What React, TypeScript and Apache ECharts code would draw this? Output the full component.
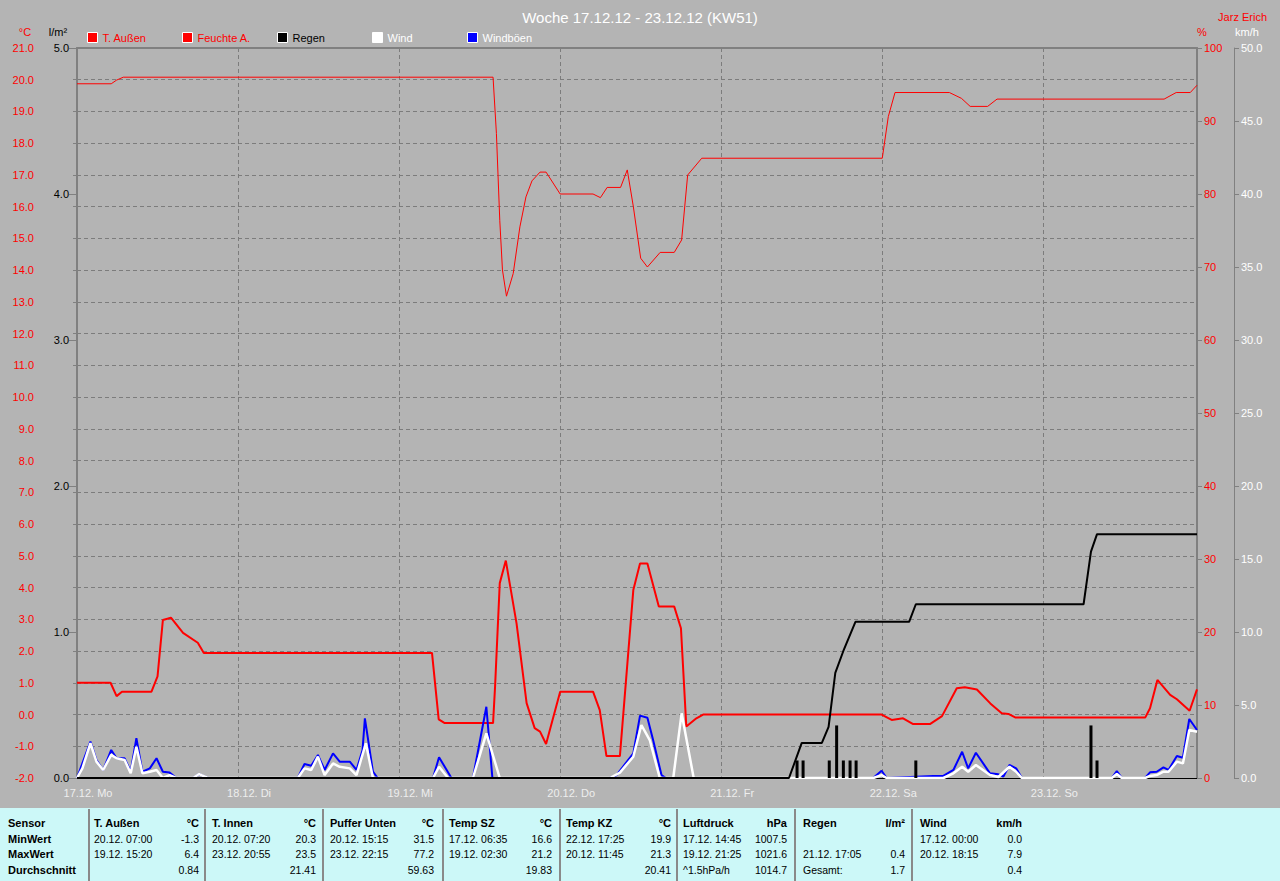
import React, { useEffect, useRef } from 'react';
import * as echarts from 'echarts';

// ---------- data (hours since 17.12. 00:00, value) ----------
const dayLabels = ['17.12. Mo', '18.12. Di', '19.12. Mi', '20.12. Do', '21.12. Fr', '22.12. Sa', '23.12. So'];
const legendNames = ['T. Außen', 'Feuchte A.', 'Regen', 'Wind', 'Windböen'];
const axisUnits = ['°C', 'l/m²', '%', 'km/h'];

const tempOutside: [number, number][] = [
  [0, 1.0], [5.0, 1.0], [5.9, 0.58], [6.7, 0.72], [11.1, 0.72], [12.0, 1.2], [12.8, 2.98], [14.0, 3.05],
  [15.8, 2.57], [18.0, 2.26], [18.9, 1.94], [52.9, 1.94], [53.9, -0.15], [54.8, -0.27], [62.0, -0.27],
  [62.3, 0.88], [63.0, 4.14], [63.9, 4.85], [65.5, 2.87], [67.0, 0.36], [68.2, -0.43], [69.0, -0.54],
  [69.9, -0.93], [72.0, 0.72], [76.9, 0.72], [77.9, 0.14], [78.9, -1.31], [80.9, -1.31], [82.9, 3.92],
  [83.9, 4.76], [85.0, 4.76], [86.7, 3.4], [89.0, 3.4], [90.0, 2.72], [90.8, -0.38], [92.3, -0.12],
  [93.3, 0.0], [119.9, 0.0], [121.4, -0.17], [123.1, -0.12], [124.6, -0.3], [127.1, -0.3], [128.9, -0.05],
  [131.1, 0.83], [132.3, 0.86], [134.1, 0.79], [136.1, 0.35], [137.8, 0.04], [138.8, 0.02], [139.8, -0.09],
  [159.2, -0.09], [159.9, 0.2], [161.0, 1.09], [162.9, 0.62], [163.9, 0.48], [165.8, 0.12], [166.9, 0.79],
];

const humidity: [number, number][] = [
  [0, 95.1], [5.1, 95.1], [5.9, 95.6], [6.9, 96.0], [62.0, 96.0], [62.5, 88.3], [63.0, 76.4], [63.4, 69.6],
  [64.0, 66.0], [65.0, 69.1], [66.0, 75.5], [66.9, 79.6], [67.8, 81.8], [69.0, 83.0], [69.9, 83.0],
  [72.0, 80.0], [76.9, 80.0], [78.0, 79.5], [79.0, 80.9], [81.0, 80.9], [82.0, 83.3], [82.9, 78.3],
  [84.0, 71.2], [85.0, 70.0], [86.9, 72.0], [89.0, 72.0], [90.1, 73.7], [91.0, 82.6], [93.1, 84.9],
  [120.0, 84.9], [120.9, 90.6], [121.9, 93.9], [130.0, 93.9], [131.8, 93.1], [133.1, 92.0], [135.7, 92.0],
  [137.1, 93.0], [162.0, 93.0], [163.8, 93.9], [165.9, 93.9], [166.9, 94.9],
];

const rainTotal: [number, number][] = [
  [0, 0], [106.1, 0], [108.0, 0.24], [111.0, 0.24], [112.0, 0.35], [113.0, 0.72], [114.2, 0.87],
  [116.0, 1.07], [124.0, 1.07], [125.0, 1.19], [150.0, 1.19], [151.1, 1.55], [152.0, 1.67], [166.9, 1.67],
];

const rainAmounts: [number, number][] = [
  [107.3, 0.12], [108.2, 0.12], [112.1, 0.12], [113.2, 0.36], [114.2, 0.12], [115.2, 0.12],
  [116.1, 0.12], [125.0, 0.12], [151.1, 0.36], [152.0, 0.12],
];

const wind: [number, number][] = [
  [0, 0], [0.8, 0.66], [2.0, 2.38], [2.9, 1.12], [3.9, 0.55], [5.1, 1.58], [5.9, 1.35], [7.1, 1.23],
  [8.0, 0.32], [8.85, 2.14], [9.75, 0.32], [10.85, 0.43], [11.85, 0.55], [12.8, 0], [13.8, 0.2], [14.8, 0],
  [17.3, 0], [18.2, 0.27], [19.5, 0], [32.9, 0], [33.9, 0.66], [34.9, 0.55], [35.9, 1.46], [36.9, 0.2],
  [38.15, 1.0], [39.15, 0.77], [40.65, 0.66], [41.65, 0.2], [43.05, 2.38], [44.1, 0], [53.05, 0],
  [53.95, 0.77], [55.3, 0], [59.0, 0], [61.0, 3.06], [63.0, 0], [79.4, 0], [80.9, 0.37], [82.9, 1.46],
  [84.1, 3.63], [85.35, 2.6], [86.85, 0], [88.85, 0], [90.1, 4.43], [91.9, 0], [118.65, 0], [119.9, 0.2],
  [120.65, 0], [129.1, 0], [130.6, 0.32], [131.9, 0.77], [132.8, 0.43], [133.95, 0.89], [136.05, 0.2],
  [137.3, 0.07], [138.95, 0.77], [139.95, 0.43], [140.8, 0], [154.2, 0], [154.95, 0.27], [155.7, 0],
  [159.15, 0], [159.9, 0.14], [160.9, 0.2], [161.9, 0.43], [162.65, 0.43], [163.9, 1.12], [164.8, 1.0],
  [165.75, 3.29], [166.9, 3.17],
];

const gusts: [number, number][] = [
  [0, 0], [0.8, 1.0], [2.0, 2.49], [2.9, 1.23], [3.9, 0.55], [5.1, 1.92], [5.9, 1.35], [7.1, 1.35],
  [8.0, 0.43], [8.85, 2.72], [9.75, 0.43], [10.85, 0.66], [11.85, 1.35], [12.8, 0.43], [13.8, 0.37],
  [14.8, 0], [17.3, 0], [18.2, 0.27], [19.5, 0], [32.9, 0], [33.9, 0.96], [34.9, 0.84], [35.9, 1.58],
  [36.9, 0.55], [38.15, 1.69], [39.15, 1.12], [40.65, 1.12], [41.65, 0.55], [42.55, 1.92], [42.9, 4.09],
  [44.1, 0.43], [44.8, 0], [53.05, 0], [53.95, 1.42], [55.8, 0], [59.0, 0], [61.0, 4.88], [61.9, 0],
  [79.4, 0], [80.4, 0.2], [82.9, 1.69], [83.9, 4.27], [85.0, 4.13], [85.85, 2.6], [87.1, 0.2], [87.75, 0],
  [118.65, 0], [119.9, 0.5], [120.65, 0], [127.6, 0.14], [129.1, 0.14], [130.6, 0.55], [131.9, 1.8],
  [132.8, 0.66], [133.95, 1.73], [136.05, 0.32], [137.3, 0.25], [138.05, 0.1], [138.95, 0.89],
  [139.95, 0.66], [140.8, 0], [154.2, 0], [154.95, 0.48], [155.7, 0], [159.15, 0], [159.9, 0.39],
  [160.9, 0.43], [161.9, 0.73], [162.65, 0.55], [163.9, 1.51], [164.8, 1.39], [165.75, 4.04], [166.9, 3.29],
];

// ---------- table ----------
const tableRowLabels = ['Sensor', 'MinWert', 'MaxWert', 'Durchschnitt'];
const tableSensors = ['T. Außen', 'T. Innen', 'Puffer Unten', 'Temp SZ', 'Temp KZ', 'Luftdruck', 'Regen', 'Wind'];
const tableUnits = ['°C', '°C', '°C', '°C', '°C', 'hPa', 'l/m²', 'km/h'];
const tableMinTimes = ['20.12. 07:00', '20.12. 07:20', '20.12. 15:15', '17.12. 06:35', '22.12. 17:25', '17.12. 14:45', '', '17.12. 00:00'];
const tableMinValues = ['-1.3', '20.3', '31.5', '16.6', '19.9', '1007.5', '', '0.0'];
const tableMaxTimes = ['19.12. 15:20', '23.12. 20:55', '23.12. 22:15', '19.12. 02:30', '20.12. 11:45', '19.12. 21:25', '21.12. 17:05', '20.12. 18:15'];
const tableMaxValues = ['6.4', '23.5', '77.2', '21.2', '21.3', '1021.6', '0.4', '7.9'];
const tableAvgLabels = ['', '', '', '', '', '^1.5hPa/h', 'Gesamt:', ''];
const tableAvgValues = ['0.84', '21.41', '59.63', '19.83', '20.41', '1014.7', '1.7', '0.4'];

// ---------- layout ----------
const FONT = '"Liberation Sans", Arial, sans-serif';
const X_MAX = 166.9;
const colLeft = [94, 212, 330, 449, 566, 683, 803, 920];
const colRight = [199, 316, 434, 552, 671, 787, 905, 1022];
const colSep = [89, 205, 323, 443, 560, 677, 795, 912];
const rowY = [823, 838.5, 854, 870];
const legendLeft = [87, 182, 277, 372, 467];
const legendTextColor = ['#ff0000', '#ff0000', '#000000', '#ffffff', '#ffffff'];
const unitX = [25, 58, 1202, 1247];
const unitColor = ['#ff0000', '#000000', '#ff0000', '#ffffff'];

function buildGraphics(): any[] {
  const els: any[] = [];
  axisUnits.forEach((u, i) => {
    els.push({
      type: 'text',
      x: unitX[i],
      y: 32,
      silent: true,
      style: { text: u, fill: unitColor[i], font: `11px ${FONT}`, align: 'center', verticalAlign: 'middle' },
    });
  });
  els.push({ type: 'rect', shape: { x: 0, y: 808, width: 1280, height: 73 }, style: { fill: '#ccf8f8' }, silent: true });
  colSep.forEach((x) => {
    els.push({ type: 'line', shape: { x1: x, y1: 809, x2: x, y2: 881 }, style: { stroke: '#8a8a8a', lineWidth: 2 }, silent: true });
  });
  const txt = (text: string, x: number, y: number, bold: boolean, align: string) => ({
    type: 'text',
    x,
    y,
    silent: true,
    style: {
      text,
      fill: '#000',
      font: `${bold ? 'bold 11px' : '10.5px'} ${FONT}`,
      align,
      verticalAlign: 'middle',
    },
  });
  tableRowLabels.forEach((t, r) => els.push(txt(t, 8, rowY[r], true, 'left')));
  tableSensors.forEach((name, c) => {
    els.push(txt(name, colLeft[c], rowY[0], true, 'left'));
    els.push(txt(tableUnits[c], colRight[c], rowY[0], true, 'right'));
    if (tableMinTimes[c]) els.push(txt(tableMinTimes[c], colLeft[c], rowY[1], false, 'left'));
    if (tableMinValues[c]) els.push(txt(tableMinValues[c], colRight[c], rowY[1], false, 'right'));
    if (tableMaxTimes[c]) els.push(txt(tableMaxTimes[c], colLeft[c], rowY[2], false, 'left'));
    if (tableMaxValues[c]) els.push(txt(tableMaxValues[c], colRight[c], rowY[2], false, 'right'));
    if (tableAvgLabels[c]) els.push(txt(tableAvgLabels[c], colLeft[c], rowY[3], false, 'left'));
    if (tableAvgValues[c]) els.push(txt(tableAvgValues[c], colRight[c], rowY[3], false, 'right'));
  });
  return els;
}

const gridDash = { color: '#7c7c7c', type: [4, 3] as any, width: 1 };

function buildOption(): any {
  return {
    animation: false,
    backgroundColor: '#b4b4b4',
    textStyle: { fontFamily: FONT },
    title: [
      {
        text: 'Woche 17.12.12 - 23.12.12 (KW51)',
        left: 'center',
        top: 5,
        textStyle: { color: '#ffffff', fontSize: 15, fontWeight: 'normal', fontFamily: FONT },
      },
      {
        text: 'Jarz Erich',
        right: 8,
        top: 6,
        textStyle: { color: '#ff0000', fontSize: 11, fontWeight: 'normal', fontFamily: FONT },
      },
    ],
    legend: legendNames.map((name, i) => ({
      data: [name],
      left: legendLeft[i],
      top: 32,
      padding: 0,
      icon: 'rect',
      itemWidth: 10,
      itemHeight: 10,
      itemGap: 0,
      selectedMode: false,
      itemStyle: { borderColor: '#ffffff', borderWidth: 1 },
      textStyle: { color: legendTextColor[i], fontSize: 11, fontFamily: FONT },
    })),
    grid: { left: 77, right: 83, top: 48, bottom: 103, containLabel: false },
    xAxis: [
      {
        type: 'value',
        position: 'bottom',
        min: 0,
        max: X_MAX,
        interval: 24,
        axisLine: { show: true, onZero: false, lineStyle: { color: '#000000', width: 1 } },
        axisTick: { show: false },
        axisLabel: {
          color: '#eeeeee',
          fontSize: 11,
          margin: 9,
          align: 'center',
          padding: [0, 0, 0, 22],
          showMaxLabel: false,
          formatter: (v: number) => {
            const i = Math.round(v / 24);
            return Math.abs(v - i * 24) < 1e-6 && i < dayLabels.length ? dayLabels[i] : '';
          },
        },
        splitLine: { show: true, lineStyle: gridDash },
      },
      {
        type: 'value',
        position: 'top',
        min: 0,
        max: X_MAX,
        axisLine: { show: true, onZero: false, lineStyle: { color: '#808080', width: 2 } },
        axisTick: { show: false },
        axisLabel: { show: false },
        splitLine: { show: false },
      },
    ],
    yAxis: [
      {
        type: 'value',
        position: 'left',
        offset: 37,
        min: -2,
        max: 21,
        interval: 1,
        axisLine: { show: true, lineStyle: { color: '#808080', width: 1 } },
        axisTick: { show: true, length: 4, lineStyle: { color: '#808080' } },
        axisLabel: { color: '#ff0000', fontSize: 11, margin: 6, formatter: (v: number) => v.toFixed(1) },
        splitLine: { show: true, lineStyle: gridDash },
      },
      {
        type: 'value',
        position: 'left',
        offset: 0,
        min: 0,
        max: 5,
        interval: 1,
        axisLine: { show: true, lineStyle: { color: '#808080', width: 2 } },
        axisTick: { show: true, length: 8, lineStyle: { color: '#808080' } },
        axisLabel: { color: '#000000', fontSize: 11, margin: 8, formatter: (v: number) => v.toFixed(1) },
        splitLine: { show: false },
      },
      {
        type: 'value',
        position: 'right',
        offset: 0,
        min: 0,
        max: 100,
        interval: 10,
        axisLine: { show: true, lineStyle: { color: '#808080', width: 2 } },
        axisTick: { show: true, length: 5, lineStyle: { color: '#808080' } },
        axisLabel: { color: '#ff0000', fontSize: 11, margin: 7 },
        splitLine: { show: false },
      },
      {
        type: 'value',
        position: 'right',
        offset: 37,
        min: 0,
        max: 50,
        interval: 5,
        axisLine: { show: true, lineStyle: { color: '#808080', width: 1 } },
        axisTick: { show: true, length: 5, lineStyle: { color: '#808080' } },
        axisLabel: { color: '#ffffff', fontSize: 11, margin: 7, formatter: (v: number) => v.toFixed(1) },
        splitLine: { show: false },
      },
    ],
    series: [
      {
        name: 'Feuchte A.',
        type: 'line',
        xAxisIndex: 0,
        yAxisIndex: 2,
        data: humidity,
        showSymbol: false,
        itemStyle: { color: '#ff0000' },
        lineStyle: { color: '#ff0000', width: 1 },
        z: 2,
      },
      {
        name: 'T. Außen',
        type: 'line',
        xAxisIndex: 0,
        yAxisIndex: 0,
        data: tempOutside,
        showSymbol: false,
        itemStyle: { color: '#ff0000' },
        lineStyle: { color: '#ff0000', width: 2 },
        z: 3,
      },
      {
        name: 'Windböen',
        type: 'line',
        xAxisIndex: 0,
        yAxisIndex: 3,
        data: gusts,
        showSymbol: false,
        itemStyle: { color: '#0000ff' },
        lineStyle: { color: '#0000ff', width: 2 },
        z: 4,
      },
      {
        name: 'Wind',
        type: 'line',
        xAxisIndex: 0,
        yAxisIndex: 3,
        data: wind,
        showSymbol: false,
        itemStyle: { color: '#ffffff' },
        lineStyle: { color: '#ffffff', width: 2.5 },
        z: 5,
      },
      {
        name: 'Regen',
        type: 'bar',
        xAxisIndex: 0,
        yAxisIndex: 1,
        data: rainAmounts,
        barWidth: 3,
        itemStyle: { color: '#000000' },
        z: 6,
      },
      {
        name: 'Regen',
        type: 'line',
        xAxisIndex: 0,
        yAxisIndex: 1,
        data: rainTotal,
        showSymbol: false,
        itemStyle: { color: '#000000' },
        lineStyle: { color: '#000000', width: 2 },
        z: 7,
      },
    ],
    graphic: buildGraphics(),
  };
}

export default function App() {
  const ref = useRef<HTMLDivElement>(null);
  useEffect(() => {
    document.body.style.margin = '0';
    if (!ref.current) return;
    const chart = echarts.init(ref.current, null, { renderer: 'svg' });
    chart.setOption(buildOption());
    return () => chart.dispose();
  }, []);
  return <div ref={ref} style={{ width: 1280, height: 881 }} />;
}
